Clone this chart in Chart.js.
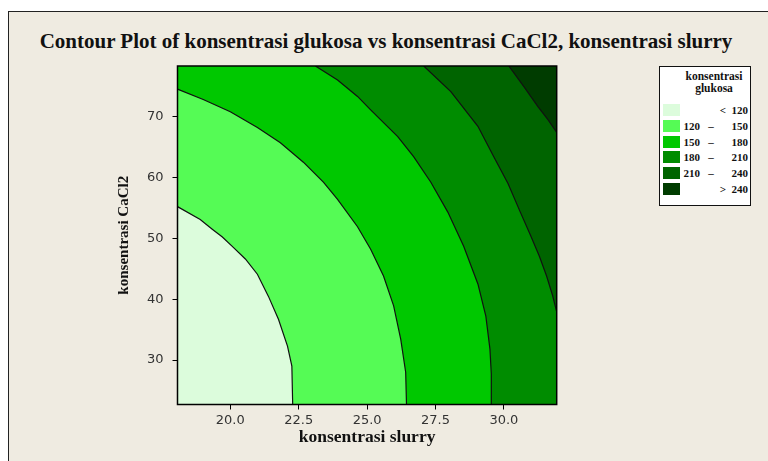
<!DOCTYPE html>
<html>
<head>
<meta charset="utf-8">
<script src="https://cdn.jsdelivr.net/npm/chart.js@4.4.0/dist/chart.umd.min.js"></script>
<style>
  html, body { margin: 0; padding: 0; background: #fff; }
  #wrap { position: relative; width: 768px; height: 461px; overflow: hidden; }
  #frame { position: absolute; left: 8px; top: 11px; right: 0; bottom: 0;
           background: #efebe1; border-left: 1px solid #222; border-top: 1px solid #222; }
  #box { position: absolute; left: 0; top: 0; width: 768px; height: 461px; }
  #title { position: absolute; left: 0; top: 29px; width: 772px; text-align: center;
           font: bold 21px "Liberation Serif", serif; color: #111; white-space: nowrap; }
  #legend { position: absolute; left: 659px; top: 66px; width: 92px; height: 140px; box-sizing: border-box;
            background: #fff; border: 1px solid #111; font: bold 11px "Liberation Serif", serif; color: #111; }
  #legend .head { position: absolute; left: 18px; right: 0; text-align: center; font-size: 11.5px; line-height: 12px; }
  #legend .row { position: absolute; left: 0; width: 90px; height: 14px; line-height: 14px; }
  #legend .sw { position: absolute; left: 3px; top: 1px; width: 17px; height: 12px; }
  #legend .lo { position: absolute; right: 50px; text-align: right; }
  #legend .dash { position: absolute; left: 45px; width: 12px; text-align: center; }
  #legend .hi { position: absolute; right: 2px; text-align: right; white-space: pre; }
</style>
</head>
<body>
<div id="wrap">
  <div id="frame"></div>
  <div id="title">Contour Plot of konsentrasi glukosa vs konsentrasi CaCl2, konsentrasi slurry</div>
  <div id="box"><canvas id="contour"></canvas></div>
  <div id="legend">
    <div class="head" style="top:3px">konsentrasi</div>
    <div class="head" style="top:15px">glukosa</div>
  </div>
</div>
<script>
// axis ranges and ticks
const xRange = [18.07, 31.93];
const yRange = [22.7, 78.3];
const xTicks = [20, 22.5, 25, 27.5, 30];
const yTicks = [30, 40, 50, 60, 70];

// contour lines (konsentrasi slurry, konsentrasi CaCl2)
const c120 = [[18.07,55.2],[18.90,53.1],[19.34,51.5],[19.71,50.2],[20.11,48.5],[20.55,46.6],[20.99,44.1],
              [21.39,40.5],[21.76,36.7],[22.09,32.3],[22.25,29.0],[22.28,22.7]];
const c150 = [[18.07,74.5],[19.01,72.8],[20.0,70.8],[20.99,68.2],[21.83,65.7],[22.67,62.5],[23.41,59.2],
              [23.92,56.4],[24.65,51.9],[25.13,48.2],[25.60,43.8],[25.97,38.9],[26.23,33.4],[26.41,28.0],[26.44,22.7]];
const c180 = [[23.11,78.3],[23.92,76.0],[24.65,73.3],[25.13,71.1],[25.49,69.5],[26.12,66.7],[26.70,63.4],
              [27.33,59.2],[27.95,54.3],[28.53,48.7],[29.05,42.5],[29.34,37.2],[29.49,31.8],[29.54,27.7],[29.54,22.7]];
const c210 = [[27.07,78.3],[28.06,74.1],[29.05,68.4],[29.63,63.4],[30.15,59.0],[30.60,54.3],[30.98,50.4],
              [31.30,47.0],[31.56,43.8],[31.78,40.6],[31.93,37.9]];
const c240 = [[30.18,78.3],[30.73,74.9],[31.25,71.6],[31.61,69.5],[31.93,67.4]];

const bandLabels = [["", "<", "120"], ["120", "–", "150"], ["150", "–", "180"],
                    ["180", "–", "210"], ["210", "–", "240"], ["", ">", "240"]];
const bandColors = ["#dcfcdc", "#55fb55", "#00c800", "#008c00", "#006400", "#003c00"];

// legend
const legend = document.getElementById("legend");
bandLabels.forEach(function (b, i) {
    const row = document.createElement("div");
    row.className = "row";
    row.style.top = (36 + i * 15.8) + "px";
    let html = '<span class="sw" style="background:' + bandColors[i] + '"></span>';
    if (b[0]) {
        html += '<span class="lo">' + b[0] + '</span><span class="dash">' + b[1] + '</span><span class="hi">' + b[2] + '</span>';
    } else {
        html += '<span class="hi">' + b[1] + '  ' + b[2] + '</span>';
    }
    row.innerHTML = html;
    legend.appendChild(row);
});

function toPoints(arr) {
    const pts = arr.map(p => ({ x: p[0], y: p[1] }));
    // curves that end on the bottom edge run along it to the right edge
    if (arr[arr.length - 1][1] === yRange[0]) pts.push({ x: xRange[1], y: yRange[0] });
    return pts;
}

const curves = [c120, c150, c180, c210, c240];
const datasets = [{
    data: [{ x: xRange[0], y: yRange[0] }, { x: xRange[1], y: yRange[0] }],
    backgroundColor: bandColors[0],
    borderWidth: 0,
    pointRadius: 0,
    fill: "end",
    order: 10
}];
curves.forEach(function (c, i) {
    datasets.push({
        data: toPoints(c),
        borderColor: "#111",
        borderWidth: 1.2,
        backgroundColor: bandColors[i + 1],
        pointRadius: 0,
        tension: 0,
        fill: "end",
        order: 9 - i
    });
});

const framePlugin = {
    id: "frame",
    afterDatasetsDraw(chart) {
        const a = chart.chartArea;
        const ctx = chart.ctx;
        ctx.save();
        ctx.strokeStyle = "#000";
        ctx.lineWidth = 1.5;
        ctx.strokeRect(a.left, a.top, a.right - a.left, a.bottom - a.top);
        ctx.restore();
    }
};

new Chart(document.getElementById("contour"), {
    type: "line",
    data: { datasets: datasets },
    plugins: [framePlugin],
    options: {
        responsive: true,
        maintainAspectRatio: false,
        animation: false,
        events: [],
        layout: { padding: { top: 66, right: 211.3, bottom: 0, left: 0 } },
        plugins: {
            legend: { display: false },
            tooltip: { enabled: false }
        },
        scales: {
            x: {
                type: "linear",
                min: xRange[0],
                max: xRange[1],
                afterBuildTicks: s => { s.ticks = xTicks.map(v => ({ value: v })); },
                afterFit: s => { s.height = 56.5; },
                ticks: {
                    callback: v => v.toFixed(1),
                    font: { family: "DejaVu Sans", size: 13 },
                    color: "#333",
                    padding: 3,
                    maxRotation: 0,
                    autoSkip: false
                },
                grid: { drawOnChartArea: false, tickLength: 5, color: "#000" },
                border: { display: false },
                title: {
                    display: true,
                    text: "konsentrasi slurry",
                    font: { family: "Liberation Serif", size: 17.5, weight: "bold" },
                    color: "#111",
                    padding: { top: 0, bottom: 13.5 }
                }
            },
            y: {
                min: yRange[0],
                max: yRange[1],
                afterBuildTicks: s => { s.ticks = yTicks.map(v => ({ value: v })); },
                afterFit: s => { s.width = 177.5; },
                ticks: {
                    font: { family: "DejaVu Sans", size: 13 },
                    color: "#333",
                    padding: 9
                },
                grid: { drawOnChartArea: false, tickLength: 5, color: "#000" },
                border: { display: false },
                title: {
                    display: true,
                    text: "konsentrasi CaCl2",
                    font: { family: "Liberation Serif", size: 15, weight: "bold" },
                    color: "#111",
                    padding: { top: 115, bottom: 0 }
                }
            }
        }
    }
});
</script>
</body>
</html>
